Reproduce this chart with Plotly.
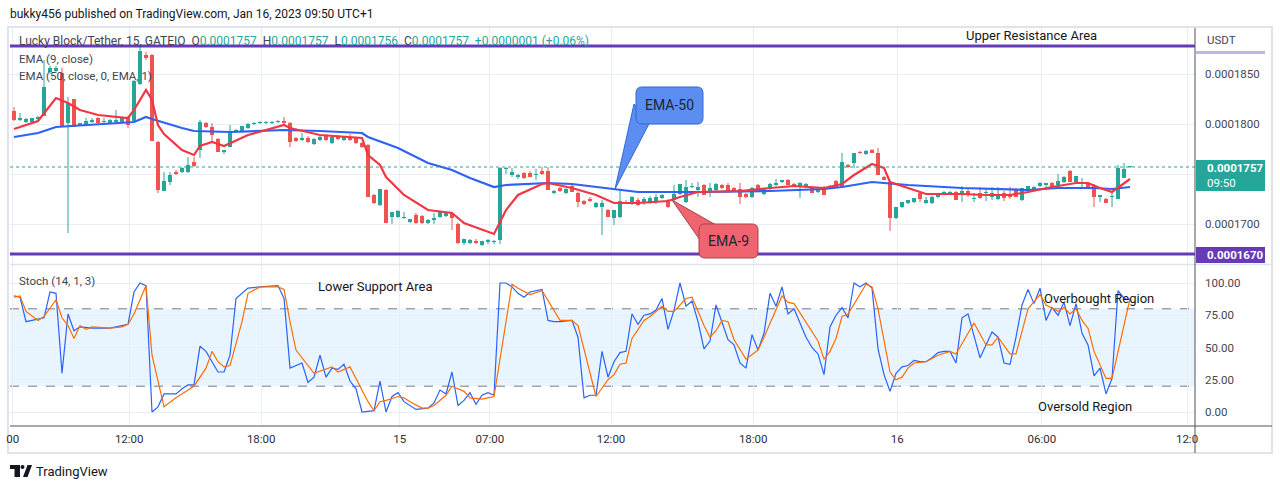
import numpy as np
import plotly.graph_objects as go

# ---------------- DATA (prices stored in units of 1e-7 USDT) ----------------
open_e7 = [
    1813,1804,1802,1802,1805,1808,1852,1853,1851,1801,
    1825,1799,1799,1802,1806,1802,1801,1802,1802,1806,
    1803,1840,1869,1869,1782,1733,1742,1752,1752,1752,
    1762,1774,1801,1797,1785,1772,1777,1792,1792,1796,
    1800,1801,1801,1801,1802,1803,1801,1786,1784,1786,
    1780,1784,1789,1781,1787,1784,1787,1786,1781,1779,
    1729,1719,1734,1707,1707,1706,1702,1709,1708,1701,
    1704,1707,1708,1711,1700,1681,1681,1683,1679,1682,
    1682,1684,1755,1749,1747,1751,1751,1749,1753,1753,
    1731,1736,1731,1738,1731,1723,1725,1717,1717,1714,
    1706,1707,1721,1721,1724,1721,1722,1722,1726,1724,
    1724,1730,1722,1737,1734,1739,1733,1734,1739,1739,
    1736,1735,1730,1727,1739,1730,1735,1739,1742,1744,
    1740,1737,1737,1737,1732,1737,1736,1743,1737,1759,
    1761,1772,1770,1774,1771,1747,1742,1706,1717,1721,
    1722,1731,1721,1721,1727,1731,1731,1732,1729,1733,
    1725,1731,1731,1727,1725,1731,1730,1735,1724,1734,
    1735,1738,1739,1741,1739,1742,1753,1742,1740,1741,
    1739,1727,1725,1727,1725,1746,1757]
high_e7 = [
    1817,1811,1806,1806,1808,1864,1858,1858,1856,1827,
    1825,1801,1806,1806,1807,1806,1805,1814,1807,1808,
    1844,1879,1872,1870,1783,1752,1752,1754,1757,1767,
    1767,1804,1802,1801,1786,1774,1799,1795,1798,1801,
    1802,1803,1803,1803,1804,1807,1802,1787,1791,1788,
    1786,1788,1790,1788,1789,1788,1790,1787,1782,1780,
    1730,1735,1735,1712,1714,1712,1705,1711,1709,1705,
    1711,1713,1712,1712,1701,1685,1685,1685,1683,1685,
    1684,1757,1757,1756,1750,1752,1753,1755,1757,1757,
    1734,1737,1736,1739,1732,1724,1727,1722,1724,1715,
    1714,1734,1724,1728,1726,1727,1728,1730,1730,1725,
    1739,1740,1744,1741,1742,1740,1741,1741,1740,1741,
    1737,1741,1731,1737,1740,1735,1741,1745,1744,1745,
    1741,1742,1741,1738,1735,1738,1739,1744,1771,1760,
    1771,1773,1774,1775,1776,1748,1742,1717,1722,1724,
    1726,1731,1727,1728,1731,1733,1733,1733,1738,1736,
    1731,1737,1736,1737,1737,1733,1737,1736,1736,1738,
    1738,1742,1741,1742,1750,1748,1754,1748,1746,1742,
    1740,1729,1726,1731,1759,1761,1757]
low_e7 = [
    1803,1803,1801,1801,1804,1808,1850,1851,1797,1691,
    1797,1798,1798,1801,1800,1801,1800,1800,1801,1796,
    1802,1839,1864,1783,1731,1733,1739,1749,1751,1751,
    1757,1766,1796,1782,1772,1770,1777,1791,1791,1795,
    1799,1800,1800,1800,1801,1800,1777,1782,1783,1781,
    1779,1783,1783,1780,1784,1783,1783,1780,1776,1727,
    1720,1718,1701,1700,1706,1705,1701,1700,1700,1700,
    1700,1706,1707,1694,1680,1679,1680,1680,1678,1680,
    1680,1680,1750,1747,1745,1745,1747,1744,1749,1734,
    1730,1732,1730,1732,1717,1719,1722,1716,1689,1707,
    1699,1706,1720,1719,1718,1719,1720,1720,1725,1716,
    1722,1729,1721,1736,1727,1729,1727,1733,1735,1731,
    1732,1720,1726,1726,1733,1729,1734,1738,1741,1739,
    1738,1726,1736,1731,1731,1729,1735,1737,1736,1756,
    1756,1770,1769,1771,1749,1744,1693,1705,1716,1720,
    1721,1722,1720,1720,1726,1730,1730,1724,1722,1727,
    1722,1725,1723,1724,1724,1723,1725,1727,1723,1733,
    1734,1737,1735,1737,1738,1741,1742,1741,1737,1737,
    1717,1722,1721,1717,1725,1746,1756]
close_e7 = [
    1804,1806,1805,1806,1807,1837,1856,1856,1797,1821,
    1797,1801,1803,1804,1801,1803,1804,1804,1806,1799,
    1843,1873,1866,1783,1734,1743,1749,1750,1756,1759,
    1758,1802,1797,1789,1772,1774,1792,1794,1798,1800,
    1801,1802,1802,1802,1803,1801,1782,1783,1786,1782,
    1785,1787,1784,1787,1785,1787,1784,1781,1777,1727,
    1721,1735,1701,1712,1713,1707,1705,1701,1701,1704,
    1706,1712,1711,1706,1681,1685,1684,1681,1683,1684,
    1683,1756,1756,1752,1749,1746,1747,1750,1750,1734,
    1733,1733,1735,1732,1722,1720,1723,1721,1721,1707,
    1714,1723,1722,1727,1719,1725,1726,1727,1729,1717,
    1730,1740,1737,1738,1737,1729,1736,1740,1736,1733,
    1733,1727,1727,1736,1733,1735,1740,1741,1744,1739,
    1738,1741,1740,1731,1735,1729,1738,1737,1762,1757,
    1771,1771,1773,1771,1749,1744,1706,1717,1722,1724,
    1726,1725,1724,1727,1731,1732,1732,1724,1733,1729,
    1726,1726,1732,1731,1729,1726,1727,1727,1736,1738,
    1737,1741,1741,1737,1743,1747,1742,1748,1742,1737,
    1727,1729,1721,1728,1756,1755,1757]

# EMA lines (bar index, price e7)
ema50_idx = [0,4,7,19,20,22,23,28,30,36,45,51,58,59,64,69,73,76,80,82,
             89,93,100,104,115,126,135,138,143,145,149,158,169,174,180,183,186]
ema50_e7 = [1787,1791,1797,1801,1802,1807,1805,1796,1793,1792,1794,1793,1791,1787,1776,1761,1754,1746,1737,1739,
            1741,1740,1735,1732,1732,1733,1735,1737,1742,1741,1739,1736,1734,1736,1736,1735,1737]
ema9_idx = [0,4,7,9,11,14,19,20,22,23,24,25,28,30,31,33,35,39,45,46,
            51,58,59,61,62,65,69,73,75,78,80,82,84,88,89,93,97,100,104,109,
            111,114,121,126,130,135,138,140,143,145,146,150,152,158,162,166,169,173,177,179,
            181,183,186]
ema9_e7 = [1795,1803,1826,1821,1814,1809,1806,1814,1834,1824,1799,1790,1774,1769,1778,1782,1778,1789,1799,1796,
           1789,1786,1769,1759,1747,1729,1714,1711,1701,1694,1690,1714,1729,1740,1741,1736,1729,1721,1721,1723,
           1727,1732,1733,1736,1738,1736,1740,1749,1760,1756,1742,1734,1730,1730,1729,1729,1732,1737,1741,1741,
           1736,1732,1745]

# Stochastic (14, 1, 3): %K and %D
k_idx = [0,1,2,3,5,6,7,8,9,10,11,13,16,18,19,20,21,22,23,24,
         25,27,28,29,30,31,32,33,34,35,36,37,38,39,41,44,45,46,48,49,
         50,51,52,53,54,55,56,57,58,60,61,62,63,64,65,67,69,70,71,72,
         73,74,75,76,77,78,79,80,81,82,83,84,85,86,88,89,90,91,93,94,
         95,96,97,98,99,100,101,102,103,104] + list(range(105, 187))
k_val = [90,89,70,71,73,93,92,30,76,63,66,65,65,67,68,93,100,98,0,4,
         14,14,18,21,21,51,47,39,31,31,44,88,92,96,97,98,88,34,38,23,
         27,44,27,34,33,37,24,18,0,1,24,0,12,15,8,2,3,7,17,14,
         31,5,9,15,6,13,15,13,100,100,97,92,89,93,95,71,70,70,71,58,
         11,13,13,47,27,39,46,47,76,68,
         75,76,79,88,64,79,100,82,86,70,
         49,55,83,70,56,52,38,34,60,48,
         61,92,82,97,76,80,69,58,50,45,
         29,66,75,81,73,100,97,100,96,49,
         29,16,30,35,36,40,39,39,42,46,
         47,47,38,73,76,58,42,52,62,58,
         38,37,58,83,95,84,96,71,81,75,
         85,67,84,61,52,28,34,14,26,94,
         88,87]
d_idx = [0,1,2,4,5,7,8,9,10,11,12,13,16,18,19,20,22,23,25,27,
         29,30,32,33,34,35,36,38,39,41,44,45,46,47,50,52,53,54,56,57,
         59,60,61,62,64,65,66,68,69,70,72,73,75,76,78,80,83,84,86,88,
         91,93,94,97,99,100,101,102,103,105,106,108,109,110,112,113,115,116,117,118,
         119,120,122,124,125,128,129,130,132,134,135,136,137,138,139,140,141,142,143,144,
         146,147,148,149,150,152,154,156,157,158,160,162,163,164,166,167,169,171,172,174,
         175,176,177,178,179,180,181,182,183,186]
d_val = [89,90,78,71,74,87,73,67,57,67,64,66,65,66,68,76,98,44,4,11,
         17,20,34,47,39,35,36,70,92,97,97,95,70,48,30,33,35,31,35,26,
         8,1,8,9,12,11,8,3,3,5,13,20,16,11,10,12,99,96,91,94,
         71,71,67,12,25,29,37,38,57,71,74,82,78,78,88,89,67,58,63,71,
         70,56,41,48,58,90,85,84,69,55,41,47,57,74,76,84,91,99,97,80,
         31,25,27,34,38,39,44,47,45,53,69,52,52,58,45,45,80,91,83,78,
         81,76,80,71,65,47,36,26,26,88]

# time-axis labels (bar position of each label)
tick_pos = [-0.2, 19.2, 41.2, 64.3, 79.3, 99.5, 123.2, 147.2, 171.3, 195.5]
tick_text = ["00", "12:00", "18:00", "15", "07:00", "12:00", "18:00", "16", "06:00", "12:0"]

price_ticks_e7 = [1700, 1750, 1800, 1850]
price_tick_text = ["0.0001700", "", "0.0001800", "0.0001850"]
stoch_ticks = [0, 25, 50, 75, 100]
stoch_tick_text = ["0.00", "25.00", "50.00", "75.00", "100.00"]

resistance_e7 = 1878
support_e7 = 1670
last_e7 = 1757

SCALE = 1e-7
# ---------------------------------------------------------------------------

o = np.array(open_e7) * SCALE
h = np.array(high_e7) * SCALE
l = np.array(low_e7) * SCALE
c = np.array(close_e7) * SCALE
idx = np.arange(len(o))
up = c >= o

UP, DN = "#26a69a", "#ef5350"
W, H = 1280, 489
L, R, T, B = 10, 1195, 28, 426  # plot area in px


def fx(px):
    return (px - L) / (R - L)


def fy(py):
    return (B - py) / (B - T)


fig = go.Figure()

base = np.minimum(o, c)
hgt = np.maximum(np.abs(c - o), 0.8 * SCALE)


def wick_xy(mask):
    xs, ys = [], []
    for i in idx[mask]:
        xs += [i, i, None]
        ys += [l[i], h[i], None]
    return xs, ys


for mask, col in ((up, UP), (~up, DN)):
    wx, wy = wick_xy(mask)
    fig.add_trace(go.Scatter(x=wx, y=wy, mode="lines", line=dict(color=col, width=1),
                             hoverinfo="skip", showlegend=False, xaxis="x", yaxis="y"))
    fig.add_trace(go.Bar(x=idx[mask], y=hgt[mask], base=base[mask], width=0.66,
                         marker=dict(color=col, line=dict(width=0)), showlegend=False,
                         xaxis="x", yaxis="y"))

fig.add_trace(go.Scatter(x=ema50_idx, y=np.array(ema50_e7) * SCALE, mode="lines",
                         line=dict(color="#2e62f5", width=2.2), showlegend=False, xaxis="x", yaxis="y"))
fig.add_trace(go.Scatter(x=ema9_idx, y=np.array(ema9_e7) * SCALE, mode="lines",
                         line=dict(color="#f23645", width=2.2), showlegend=False, xaxis="x", yaxis="y"))

fig.add_trace(go.Scatter(x=k_idx, y=k_val, mode="lines", line=dict(color="#2962ff", width=1.2),
                         showlegend=False, xaxis="x2", yaxis="y2"))
fig.add_trace(go.Scatter(x=d_idx, y=d_val, mode="lines", line=dict(color="#ff6d00", width=1.2),
                         showlegend=False, xaxis="x2", yaxis="y2"))

GRID = "#e9eef4"
AX = "#50535e"
TXT = "#434651"
FONT = "Roboto"

main_dom = [fy(264), 1.0]
stoch_dom = [0.0, fy(265)]

main_top = 1924 - T
main_bot = 1924 - 264
s_per_px = 1 / 1.29
stoch_top = 100 + (283 - 265) * s_per_px
stoch_bot = -(B - 412) * s_per_px

fig.update_layout(
    width=W, height=H, paper_bgcolor="white", plot_bgcolor="white",
    margin=dict(l=L, r=W - R, t=T, b=H - B, autoexpand=False),
    barmode="overlay", bargap=0, showlegend=False, hovermode=False,
    font=dict(family=FONT, size=11, color=TXT),
    xaxis=dict(domain=[0, 1], anchor="y", range=[-0.667, 196.83], showticklabels=False,
               tickvals=tick_pos, showgrid=True, gridcolor=GRID, zeroline=False, ticks=""),
    xaxis2=dict(domain=[0, 1], anchor="y2", matches="x", range=[-0.667, 196.83],
                tickvals=tick_pos, ticktext=tick_text, showgrid=True, gridcolor=GRID,
                zeroline=False, ticks="", ticklabelstandoff=4,
                tickfont=dict(family=FONT, size=11.5, color="#2a2e39")),
    yaxis=dict(domain=main_dom, anchor="x", side="right", range=[main_bot * SCALE, main_top * SCALE],
               tickvals=[v * SCALE for v in price_ticks_e7], ticktext=price_tick_text,
               showgrid=True, gridcolor=GRID, zeroline=False, ticks="", ticklabelstandoff=9,
               tickfont=dict(family=FONT, size=11.5, color=TXT)),
    yaxis2=dict(domain=stoch_dom, anchor="x2", side="right", range=[stoch_bot, stoch_top],
                tickvals=stoch_ticks, ticktext=stoch_tick_text, showgrid=True, gridcolor=GRID,
                zeroline=False, ticks="", ticklabelstandoff=9,
                tickfont=dict(family=FONT, size=11.5, color=TXT)),
)

shapes = []
# stochastic band and levels
shapes.append(dict(type="rect", xref="paper", yref="y2", x0=0, x1=1, y0=20, y1=80,
                   fillcolor="rgba(33,150,243,0.10)", line=dict(width=0), layer="below"))
for lv in (80, 50, 20):
    shapes.append(dict(type="line", xref="paper", yref="y2", x0=0, x1=1, y0=lv, y1=lv,
                       line=dict(color="#787b86", width=1, dash="dash"), layer="below"))
# last price dotted line
shapes.append(dict(type="line", xref="paper", yref="y", x0=0, x1=1, y0=last_e7 * SCALE, y1=last_e7 * SCALE,
                   line=dict(color=UP, width=1, dash="dot")))
# resistance / support lines
for lv in (resistance_e7, support_e7):
    shapes.append(dict(type="line", xref="paper", yref="y", x0=0, x1=1, y0=lv * SCALE, y1=lv * SCALE,
                       line=dict(color="#673ab7", width=3)))
# frame, separators, axis lines
shapes.append(dict(type="rect", xref="paper", yref="paper", x0=fx(8), x1=fx(1272), y0=fy(453), y1=fy(27),
                   line=dict(color="#e0e3eb", width=2), layer="below"))
shapes.append(dict(type="line", xref="paper", yref="paper", x0=fx(L), x1=fx(1272), y0=fy(264.5), y1=fy(264.5),
                   line=dict(color="#e0e3eb", width=1.5)))
shapes.append(dict(type="line", xref="paper", yref="paper", x0=fx(L), x1=fx(1272), y0=fy(426), y1=fy(426),
                   line=dict(color=AX, width=1)))
shapes.append(dict(type="line", xref="paper", yref="paper", x0=1, x1=1, y0=fy(453), y1=fy(28),
                   line=dict(color=AX, width=1)))


def rect_px(x0, y0, x1, y1, color):
    return dict(type="rect", xref="paper", yref="paper", x0=fx(x0), x1=fx(x1), y0=fy(y1), y1=fy(y0),
                fillcolor=color, line=dict(width=0))


shapes.append(rect_px(1196, 160, 1265, 191, UP))
shapes.append(rect_px(1196, 247, 1265, 263, "#673ab7"))
shapes.append(rect_px(1196, 51, 1265, 54, "#c5b3e6"))


def path_px(pts, close=True):
    s = "M " + " L ".join(f"{fx(x):.5f},{fy(y):.5f}" for x, y in pts)
    return s + (" Z" if close else "")


def rrect_path(x0, y0, x1, y1, r):
    P = lambda x, y: f"{fx(x):.5f},{fy(y):.5f}"
    return (f"M {P(x0 + r, y0)} L {P(x1 - r, y0)} Q {P(x1, y0)} {P(x1, y0 + r)} "
            f"L {P(x1, y1 - r)} Q {P(x1, y1)} {P(x1 - r, y1)} L {P(x0 + r, y1)} "
            f"Q {P(x0, y1)} {P(x0, y1 - r)} L {P(x0, y0 + r)} Q {P(x0, y0)} {P(x0 + r, y0)} Z")


# EMA-50 callout
shapes.append(dict(type="path", xref="paper", yref="paper",
                   path=path_px([(615, 189), (634, 104), (650, 122)]),
                   fillcolor="#5b8ef0", line=dict(color="#2f6ad9", width=1)))
shapes.append(dict(type="path", xref="paper", yref="paper", path=rrect_path(636, 87, 703, 124, 6),
                   fillcolor="#5b8ef0", line=dict(color="#2f6ad9", width=1)))
# EMA-9 callout
shapes.append(dict(type="path", xref="paper", yref="paper",
                   path=path_px([(672, 200), (700, 240), (716, 225)]),
                   fillcolor="#f0646f", line=dict(color="#a8424a", width=1)))
shapes.append(dict(type="path", xref="paper", yref="paper", path=rrect_path(699, 224, 758, 258, 6),
                   fillcolor="#f0646f", line=dict(color="#a8424a", width=1)))
# TradingView logo
shapes.append(rect_px(10, 465, 20, 469, "#131722"))
shapes.append(rect_px(14.5, 465, 20, 477, "#131722"))
shapes.append(dict(type="circle", xref="paper", yref="paper", x0=fx(20.5), x1=fx(24.5), y0=fy(469), y1=fy(465),
                   fillcolor="#131722", line=dict(width=0)))
shapes.append(dict(type="path", xref="paper", yref="paper",
                   path=path_px([(23, 477), (27.5, 465), (32, 465), (27.5, 477)]),
                   fillcolor="#131722", line=dict(width=0)))

fig.update_layout(shapes=shapes)

ann = []


def text(px, py, s, size=12, color=TXT, anchor="left", family=FONT):
    ann.append(dict(x=fx(px), y=fy(py), xref="paper", yref="paper", text=s, showarrow=False,
                    xanchor=anchor, yanchor="middle", font=dict(family=family, size=size, color=color)))


NB = "\u00a0"
g = lambda s: f'<span style="color:{UP}">{s}</span>'
legend = (f"Lucky Block/Tether, 15, GATEIO{NB}{NB}O{g('0.0001757')}{NB}{NB}H{g('0.0001757')}"
          f"{NB}{NB}L{g('0.0001756')}{NB}{NB}C{g('0.0001757')}{NB}{NB}{g('+0.0000001 (+0.06%)')}")
text(8, 14, "bukky456 published on TradingView.com, Jan 16, 2023 09:50 UTC+1", size=12, color="#131722")
text(17, 41, legend, size=12)
text(17, 59, "EMA (9, close)", size=11.5)
text(17, 76, "EMA (50, close, 0, EMA, 1)", size=11.5)
text(17, 281, "Stoch (14, 1, 3)", size=11.5)
text(964, 36, "Upper Resistance Area", size=13, color="#131722")
text(316, 286, "Lower Support Area", size=13, color="#131722")
text(1042, 298, "Overbought Region", size=13, color="#131722")
text(1036, 406, "Oversold Region", size=13, color="#131722")
text(669.5, 105, "EMA-50", size=14, color="#1e2533", anchor="center")
text(728.5, 241, "EMA-9", size=14, color="#1e2533", anchor="center")
text(1205, 40, "USDT", size=11.5)
text(1205, 168, "<b>0.0001757</b>", size=11.5, color="white")
text(1205, 183, "09:50", size=11.5, color="white")
text(1205, 255, "<b>0.0001670</b>", size=11.5, color="white")
text(34, 471, "TradingView", size=13, color="#131722")

fig.update_layout(annotations=ann)

# remove the browser's default 8px page margin so the figure sits at the page origin
fig.write_html("out.html", config={"displayModeBar": False, "staticPlot": True},
               post_script="document.body.style.margin='0';")
